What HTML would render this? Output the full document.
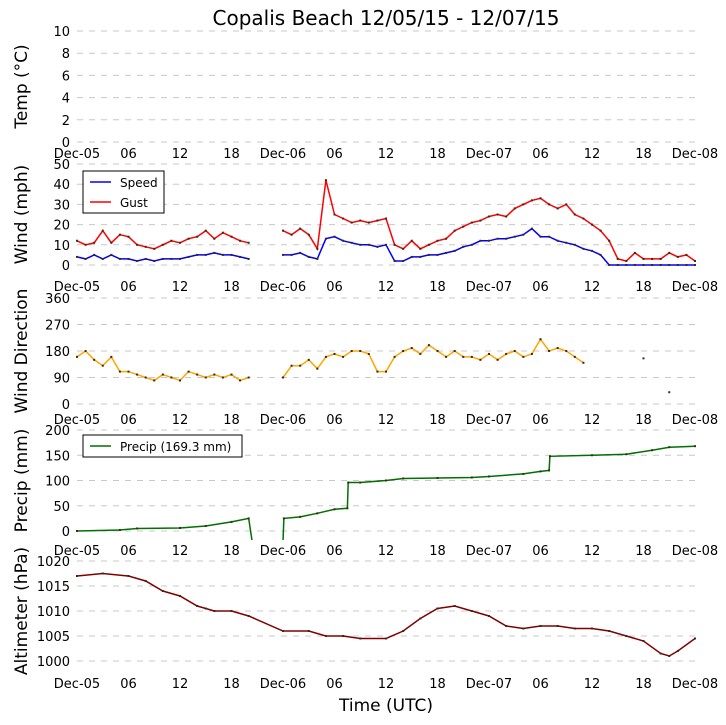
<!DOCTYPE html>
<html><head><meta charset="utf-8"><style>
body{margin:0;background:#fff}
svg{display:block;font-family:"DejaVu Sans","Liberation Sans",sans-serif}
</style></head><body>
<svg id="c" width="726" height="725" xmlns="http://www.w3.org/2000/svg">
<text x="386" y="25" font-size="20" text-anchor="middle">Copalis Beach 12/05/15 - 12/07/15</text>
<text x="386" y="711" font-size="17" text-anchor="middle">Time (UTC)</text>
</svg>
<script>
const xTickLabels=["Dec-05","06","12","18","Dec-06","06","12","18","Dec-07","06","12","18","Dec-08"];
const windSpeed=[4,3,5,3,5,3,3,2,3,2,3,3,3,4,5,5,6,5,5,4,3,null,null,null,5,5,6,4,3,13,14,12,11,10,10,9,10,2,2,4,4,5,5,6,7,9,10,12,12,13,13,14,15,18,14,14,12,11,10,8,7,5,0,0,0,0,0,0,0,0,0,0,0];
const windGust=[12,10,11,17,11,15,14,10,9,8,10,12,11,13,14,17,13,16,14,12,11,null,null,null,17,15,18,15,8,42,25,23,21,22,21,22,23,10,8,12,8,10,12,13,17,19,21,22,24,25,24,28,30,32,33,30,28,30,25,23,20,17,12,3,2,6,3,3,3,6,4,5,2];
const windDir=[160,180,150,130,160,110,110,100,90,80,100,90,80,110,100,90,100,90,100,80,90,null,null,null,90,130,130,150,120,160,170,160,180,180,170,110,110,160,180,190,170,200,180,160,180,160,160,150,170,150,170,180,160,170,220,180,190,180,160,140,null,null,null,null,null,null,155,null,null,40,null,null,null];
const precipHours=[0,5,7,12,15,18,20,20.4,24,24.1,26,28,30,31.5,31.6,33,36,38,42,46,48,52,54,55,55.1,60,64,67,69,72];
const precipVals=[0,2,5,6,10,18,25,-20,-20,25,28,35,43,45,96,96,100,104,105,106,108,113,118,120,148,150,152,160,166,168];
const altHours=[0,3,6,8,10,12,14,15,16,18,20,24,27,29,31,33,36,38,40,42,44,46,48,50,52,54,56,58,60,62,64,66,68,69,70,72];
const altVals=[1017,1017.5,1017,1016,1014,1013,1011,1010.5,1010,1010,1009,1006,1006,1005,1005,1004.5,1004.5,1006,1008.5,1010.5,1011,1010,1009,1007,1006.5,1007,1007,1006.5,1006.5,1006,1005,1004,1001.5,1001,1002,1004.5];
const tempTicks=[0,2,4,6,8,10],windTicks=[0,10,20,30,40,50],dirTicks=[0,90,180,270,360],precipTicks=[0,50,100,150,200],altTicks=[1000,1005,1010,1015,1020];

const svg=document.getElementById('c'),NS="http://www.w3.org/2000/svg";
const X0=77,X1=695;
const xs=h=>X0+h*(X1-X0)/72;
function el(t,a,p){const e=document.createElementNS(NS,t);for(const k in a)e.setAttribute(k,a[k]);(p||svg).appendChild(e);return e;}
function panel(name,top,bot,ticks,lab,xlabY){
  const g=el('g',{});
  
  
  const mn=ticks[0],mx=ticks[ticks.length-1];
  const ys=v=>bot-(v-mn)*(bot-top)/(mx-mn);
  ticks.forEach(t=>{
    const l=el('line',{x1:X0,x2:X1,y1:ys(t),y2:ys(t),stroke:'#c8c8c8','stroke-dasharray':'6,6','stroke-width':1},g);
    
    
    const tx=el('text',{x:70,y:ys(t)+5,'font-size':13,'text-anchor':'end'},g);tx.textContent=t;
    
    
  });
  xTickLabels.forEach((s,i)=>{
    const tx=el('text',{x:xs(i*6),y:xlabY,'font-size':13,'text-anchor':'middle'},g);tx.textContent=s;
    
    
  });
  const yl=el('text',{transform:`translate(27,${(top+bot)/2}) rotate(-90)`,'font-size':17,'text-anchor':'middle'},g);yl.textContent=lab;
  
  
  const cid='clip'+name;
  const cp=el('clipPath',{id:cid},g);el('rect',{x:X0-3,y:top-3,width:X1-X0+6,height:bot-top+12},cp);
  return {g,ys,cid};
}
function series(P,hours,vals,color,name){
  const g=el('g',{'clip-path':`url(#${P.cid})`},P.g);
  
  
  let d='',pen=false;
  hours.forEach((h,i)=>{const v=vals[i];if(v===null||v===undefined){pen=false;return;}
    d+=(pen?'L':'M')+xs(h).toFixed(1)+' '+P.ys(v).toFixed(1);pen=true;});
  const p=el('path',{d,fill:'none',stroke:color,'stroke-width':1.5},g);
  
  
  hours.forEach((h,i)=>{const v=vals[i];if(v===null||v===undefined)return;
    const r=el('rect',{x:xs(h)-1,y:P.ys(v)-1,width:2,height:2,fill:'#3a2a1a'},g);
    
    });
}
const hrs=windGust.map((_,i)=>i);
panel('temp',31,142,tempTicks,'Temp (\u00b0C)',158);
const W=panel('wind',164,265,windTicks,'Wind (mph)',291);
series(W,hrs,windSpeed,'#0000ff','wind-speed');
series(W,hrs,windGust,'#ff0000','wind-gust');
const D=panel('direction',298,404,dirTicks,'Wind Direction',424);
series(D,hrs,windDir,'#ffa500','wind-direction');
const Pp=panel('precip',430,531,precipTicks,'Precip (mm)',555);
series(Pp,precipHours,precipVals,'#007000','precip');
const A=panel('altimeter',561,661,altTicks,'Altimeter (hPa)',688);
series(A,altHours,altVals,'#800000','altimeter');

function legend(x,y,w,items,name){
  const g=el('g',{});
  
  
  el('rect',{x,y,width:w,height:items.length*20+2,fill:'#fff',stroke:'#000','stroke-width':1},g);
  items.forEach((it,i)=>{
    const cy=y+11+i*20;
    el('line',{x1:x+7,x2:x+28,y1:cy,y2:cy,stroke:it[1],'stroke-width':1.5},g);
    const t=el('text',{x:x+37,y:cy+5,'font-size':12},g);t.textContent=it[0];
    
    
  });
}
legend(83,171,81,[['Speed','#0000ff'],['Gust','#ff0000']],'wind-legend');
legend(83,435,159,[['Precip (169.3 mm)','#007000']],'precip-legend');
</script>
</body></html>
